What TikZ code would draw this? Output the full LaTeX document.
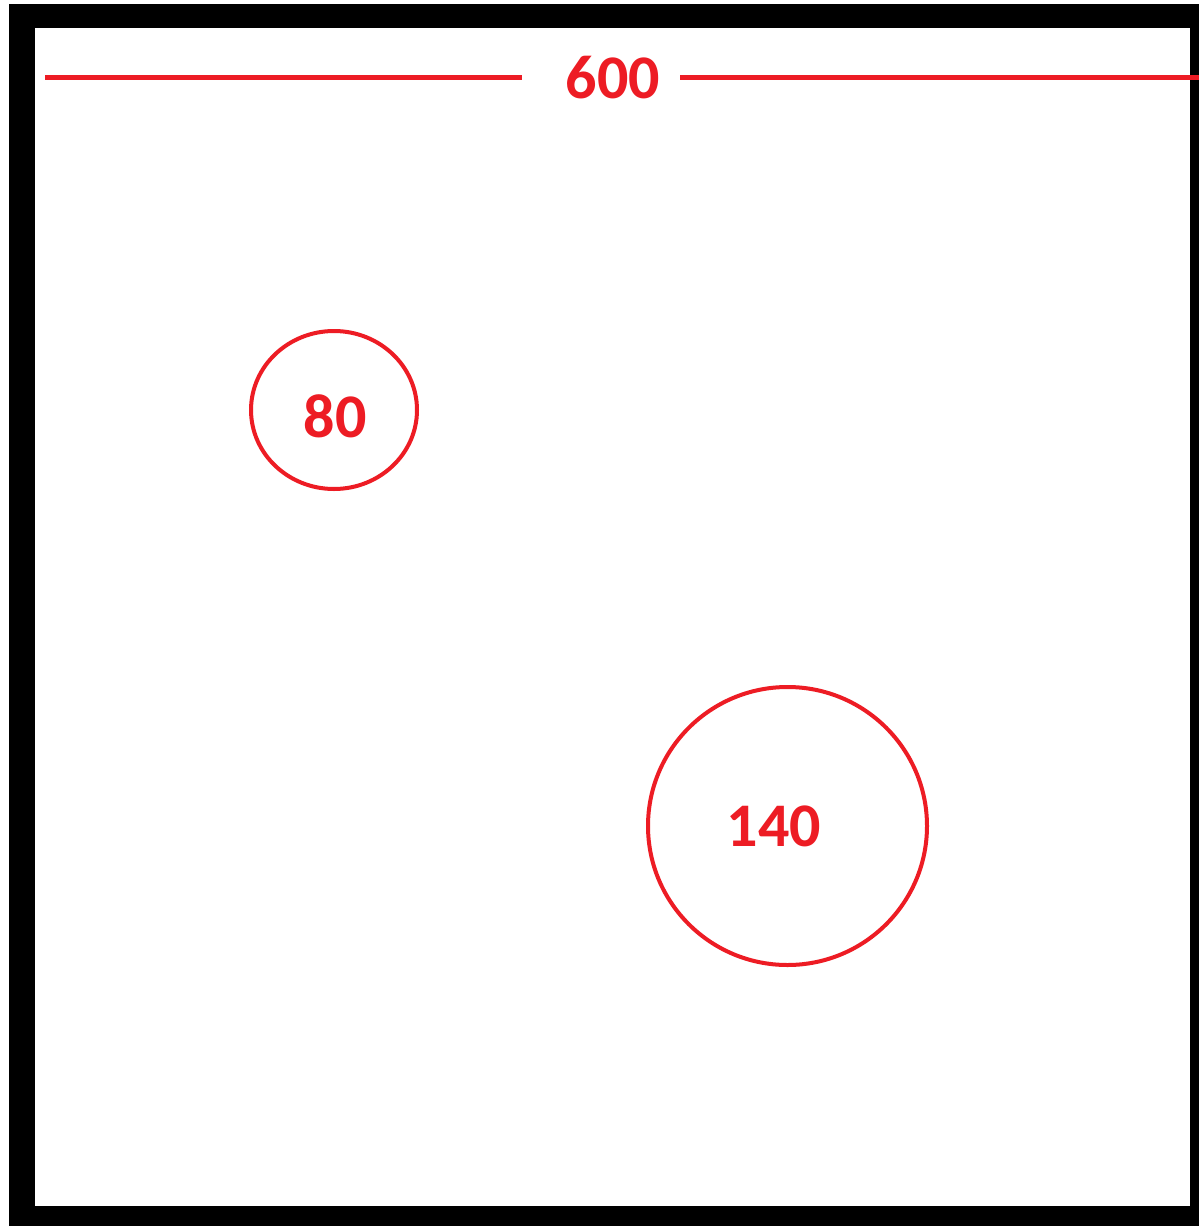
\documentclass[tikz,border=0pt]{standalone}
\usepackage{fontspec}
\setmainfont{Carlito}
\definecolor{pred}{RGB}{237,28,36}
\begin{document}
\begin{tikzpicture}[x=1pt,y=-1pt,
  lbl/.style={text=pred,font=\fontsize{62}{62}\selectfont\bfseries,inner sep=0pt},
  redline/.style={draw=pred,line width=5pt},
  ring/.style={draw=pred,line width=4pt}]
\useasboundingbox (0,0) rectangle (1199,1226);
\begin{scope}
\clip (0,0) rectangle (1199,1226);
\fill[black] (9,4) rectangle (1230,1250);
\fill[white] (35,28) rectangle (1190,1206);
\coordinate (l1) at (45,77);
\coordinate (l2) at (522,77);
\coordinate (r1) at (680,77);
\coordinate (r2) at (1210,77);
\draw[redline] (l1) -- (l2);
\draw[redline] (r1) -- (r2);
\end{scope}
\node[lbl] (w) at (613,78) {600};
\draw[ring] (334,410) ellipse [x radius=83, y radius=79];
\node[lbl] (a) at (335,416) {80};
\draw[ring] (787.5,826) ellipse [x radius=139.5, y radius=139];
\node[lbl] (b) at (774,826) {140};
\end{tikzpicture}
\end{document}
